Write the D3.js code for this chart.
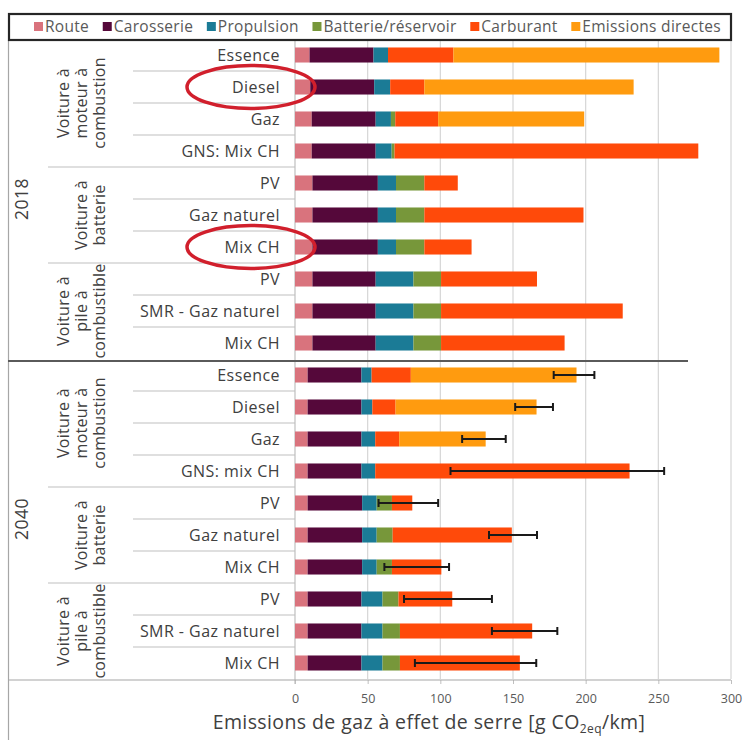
<!DOCTYPE html>
<html>
<head>
<meta charset="utf-8">
<script src="https://cdn.jsdelivr.net/npm/d3@7"></script>
<style>
  body { margin: 0; background: #fff; }
  text { font-family: "Open Sans", sans-serif; }
</style>
</head>
<body>
<div id="wrapper"></div>
<script>
// data
const years = ['2018', '2040']
const groupNames = [
    ['Voiture à', 'moteur à', 'combustion'],
    ['Voiture à', 'batterie'],
    ['Voiture à', 'pile à', 'combustible']
]
const groupSizes = [4, 3, 3]
const labels2018 = ['Essence', 'Diesel', 'Gaz', 'GNS: Mix CH', 'PV', 'Gaz naturel', 'Mix CH', 'PV', 'SMR - Gaz naturel', 'Mix CH']
const labels2040 = ['Essence', 'Diesel', 'Gaz', 'GNS: mix CH', 'PV', 'Gaz naturel', 'Mix CH', 'PV', 'SMR - Gaz naturel', 'Mix CH']

const seriesNames = ['Route', 'Carosserie', 'Propulsion', 'Batterie/réservoir', 'Carburant', 'Emissions directes']
const seriesColors = ['#d9737d', '#55083a', '#1b7b96', '#77973a', '#ff4a0a', '#ff9b0f']

const route      = [10, 10.5, 11.5, 11.5, 12, 12, 12, 12, 12, 12,   8.7, 8.7, 8.7, 8.7, 8.7, 8.7, 8.7, 8.7, 8.7, 8.7]
const carosserie = [44, 44, 44, 44, 45, 45, 45, 43.5, 43.5, 43.5,   37, 37, 37, 37, 37.5, 37.5, 37.5, 37, 37, 37]
const propulsion = [10, 11, 10.5, 11, 12.5, 12.5, 12.5, 26, 26, 26,   7, 7.5, 9.5, 9.5, 10, 10, 10, 14.5, 14.5, 14.5]
const batterie   = [0, 0, 3, 2, 19.5, 19.5, 19.5, 19, 19, 19,   0, 0, 0, 0, 10.5, 11, 10.5, 11, 12, 12]
const carburant  = [45, 23.5, 29.5, 209, 23, 109.5, 32.5, 66, 125, 85,   27, 16, 16.5, 175, 14, 82, 34, 37, 91, 82.5]
const emissions  = [183, 144, 100.5, 0, 0, 0, 0, 0, 0, 0,   114, 97, 59.5, 0, 0, 0, 0, 0, 0, 0]

const errLow  = [null, null, null, null, null, null, null, null, null, null,   178, 151.5, 115, 107, 57.5, 133.5, 61.5, 75, 135.5, 82.5]
const errHigh = [null, null, null, null, null, null, null, null, null, null,   206, 177.5, 145, 254, 98.5, 166.5, 106, 135.5, 180.5, 166]

const xTicks = [0, 50, 100, 150, 200, 250, 300]
const highlighted = [1, 6] // rows circled in red

// build rows
const labels = labels2018.concat(labels2040)
const rows = labels.map((label, i) => {
    const row = { id: i, label: label }
    const vals = [route[i], carosserie[i], propulsion[i], batterie[i], carburant[i], emissions[i]]
    seriesNames.forEach((s, j) => row[s] = vals[j])
    row.lo = errLow[i]
    row.hi = errHigh[i]
    return row
})

let dimensions = {
    width: 746,
    height: 740,
    plotLeft: 295,
    plotRight: 731,
    plotTop: 39,
    plotBottom: 679
}

const svg = d3.select('#wrapper').append('svg')
    .attr('width', dimensions.width)
    .attr('height', dimensions.height)

const xScale = d3.scaleLinear()
    .domain([0, 300])
    .range([dimensions.plotLeft, dimensions.plotRight])

const yScale = d3.scaleBand()
    .domain(rows.map(d => d.id))
    .range([dimensions.plotTop, dimensions.plotBottom])
    .paddingInner(0.53)
    .paddingOuter(0.265)

const step = yScale.step()
const rowTop = i => dimensions.plotTop + i * step

// gridlines
svg.append('g')
    .selectAll('line')
    .data(xTicks.slice(1))
    .join('line')
    .attr('x1', d => xScale(d)).attr('x2', d => xScale(d))
    .attr('y1', dimensions.plotTop + 2).attr('y2', dimensions.plotBottom)
    .attr('stroke', '#d6d6d6')
    .attr('stroke-width', 1.2)

// left frame line
svg.append('line')
    .attr('x1', 8.5).attr('x2', 8.5)
    .attr('y1', 40).attr('y2', 740)
    .attr('stroke', '#a6a6a6')
    .attr('stroke-width', 1.2)

// row separators in the label column
const groupStarts = []
let acc = 0
years.forEach(() => {
    groupSizes.forEach(n => { groupStarts.push(acc); acc += n })
})
const sepRows = d3.range(1, rows.length).filter(i => i !== 10)
svg.append('g')
    .selectAll('line')
    .data(sepRows)
    .join('line')
    .attr('x1', i => groupStarts.includes(i) ? 48 : 133)
    .attr('x2', dimensions.plotLeft)
    .attr('y1', i => rowTop(i)).attr('y2', i => rowTop(i))
    .attr('stroke', '#bfbfbf')
    .attr('stroke-width', 1.2)

// y axis line
svg.append('line')
    .attr('x1', dimensions.plotLeft).attr('x2', dimensions.plotLeft)
    .attr('y1', dimensions.plotTop).attr('y2', dimensions.plotBottom + 5)
    .attr('stroke', '#bfbfbf')
    .attr('stroke-width', 1.2)

// stacked bars
const stack = d3.stack().keys(seriesNames)
const stacked = stack(rows)

svg.append('g')
    .selectAll('g')
    .data(stacked)
    .join('g')
    .attr('fill', (d, i) => seriesColors[i])
    .selectAll('rect')
    .data(d => d)
    .join('rect')
    .attr('x', d => xScale(d[0]))
    .attr('y', d => yScale(d.data.id))
    .attr('width', d => xScale(d[1]) - xScale(d[0]))
    .attr('height', yScale.bandwidth())

// error bars
const errRows = rows.filter(d => d.lo !== null)
const errG = svg.append('g').attr('stroke', '#1a1a1a').attr('stroke-width', 2)
errG.selectAll('.err')
    .data(errRows)
    .join('line')
    .attr('x1', d => xScale(d.lo)).attr('x2', d => xScale(d.hi))
    .attr('y1', d => yScale(d.id) + yScale.bandwidth() / 2)
    .attr('y2', d => yScale(d.id) + yScale.bandwidth() / 2)
errG.selectAll('.capL')
    .data(errRows.flatMap(d => [{ id: d.id, v: d.lo }, { id: d.id, v: d.hi }]))
    .join('line')
    .attr('x1', d => xScale(d.v)).attr('x2', d => xScale(d.v))
    .attr('y1', d => yScale(d.id) + yScale.bandwidth() / 2 - 4)
    .attr('y2', d => yScale(d.id) + yScale.bandwidth() / 2 + 4)

// year separator
svg.append('line')
    .attr('x1', 8).attr('x2', 688)
    .attr('y1', rowTop(10) + 2).attr('y2', rowTop(10) + 2)
    .attr('stroke', '#5a5a5a')
    .attr('stroke-width', 2)

// x axis
const xAxis = d3.axisBottom(xScale).tickValues(xTicks).tickSize(4).tickPadding(10)
const xAxisG = svg.append('g')
    .attr('transform', `translate(0, ${dimensions.plotBottom + 1})`)
    .call(xAxis)
xAxisG.select('.domain').remove()
xAxisG.selectAll('line').attr('stroke', '#bfbfbf')
xAxisG.selectAll('text')
    .attr('fill', '#595959')
    .style('font-family', '"Open Sans", sans-serif')
    .style('font-size', '12.5px')
svg.append('line')
    .attr('x1', 8).attr('x2', dimensions.plotRight)
    .attr('y1', dimensions.plotBottom + 1).attr('y2', dimensions.plotBottom + 1)
    .attr('stroke', '#a6a6a6')
    .attr('stroke-width', 1.2)

// axis title
const title = svg.append('text')
    .attr('x', 429)
    .attr('y', 729)
    .attr('text-anchor', 'middle')
    .attr('fill', '#404040')
    .style('font-size', '19.5px')
    .style('letter-spacing', '0.4px')
title.append('tspan').text('Emissions de gaz à effet de serre [g CO')
title.append('tspan').text('2eq').attr('dy', 4).style('font-size', '12px')
title.append('tspan').text('/km]').attr('dy', -4)

// category labels
svg.append('g')
    .selectAll('text')
    .data(rows)
    .join('text')
    .attr('x', 280)
    .attr('y', d => yScale(d.id) + yScale.bandwidth() / 2)
    .attr('dy', '0.35em')
    .attr('text-anchor', 'end')
    .attr('fill', '#404040')
    .style('font-size', '16px')
    .style('letter-spacing', '0.45px')
    .text(d => d.label)

// group labels (rotated)
const groupData = []
years.forEach((y, yi) => {
    let start = yi * 10
    groupSizes.forEach((n, gi) => {
        groupData.push({ lines: groupNames[gi], start: start, n: n })
        start += n
    })
})
svg.append('g')
    .selectAll('text')
    .data(groupData)
    .join('text')
    .attr('transform', d => {
        const cy = rowTop(d.start) + d.n * step / 2
        const cx = 99 - (d.lines.length - 1) * 18
        return `translate(${cx}, ${cy}) rotate(-90)`
    })
    .attr('text-anchor', 'middle')
    .attr('fill', '#404040')
    .style('font-size', '16px')
    .style('letter-spacing', '0.3px')
    .each(function (d) {
        d3.select(this).selectAll('tspan')
            .data(d.lines)
            .join('tspan')
            .attr('x', 0)
            .attr('dy', (l, i) => i === 0 ? '0.35em' : 18)
            .text(l => l)
    })

// year labels
svg.append('g')
    .selectAll('text')
    .data(years)
    .join('text')
    .attr('transform', (d, i) => `translate(22, ${rowTop(i * 10) + 5 * step}) rotate(-90)`)
    .attr('dy', '0.35em')
    .attr('text-anchor', 'middle')
    .attr('fill', '#404040')
    .style('font-size', '17.5px')
    .style('letter-spacing', '0.5px')
    .text(d => d)

// red circles around highlighted labels
svg.append('g')
    .selectAll('ellipse')
    .data(highlighted)
    .join('ellipse')
    .attr('cx', 251)
    .attr('cy', i => yScale(i) + yScale.bandwidth() / 2)
    .attr('rx', 64)
    .attr('ry', 21.5)
    .attr('fill', 'none')
    .attr('stroke', '#d11f2c')
    .attr('stroke-width', 3.5)

// legend
const legend = svg.append('g')
legend.append('rect')
    .attr('x', 9).attr('y', 14)
    .attr('width', 722).attr('height', 26)
    .attr('fill', 'none')
    .attr('stroke', '#262626')
    .attr('stroke-width', 2.2)

const items = legend.selectAll('g.item')
    .data(seriesNames)
    .join('g')
    .attr('class', 'item')
items.append('rect')
    .attr('width', 9).attr('height', 9)
    .attr('y', 22)
    .attr('fill', (d, i) => seriesColors[i])
items.append('text')
    .attr('x', 11)
    .attr('y', 27)
    .attr('dy', '0.35em')
    .attr('fill', '#595959')
    .style('font-size', '15.5px')
    .style('letter-spacing', '0.3px')
    .text(d => d)

// spread the legend items from left to right edge
const widths = []
items.select('text').each(function () { widths.push(11 + this.getComputedTextLength()) })
const legendStart = 34
const legendEnd = 721
const gap = (legendEnd - legendStart - d3.sum(widths)) / (widths.length - 1)
let lx = legendStart
items.attr('transform', (d, i) => {
    const t = `translate(${lx}, 0)`
    lx += widths[i] + gap
    return t
})
</script>
</body>
</html>
